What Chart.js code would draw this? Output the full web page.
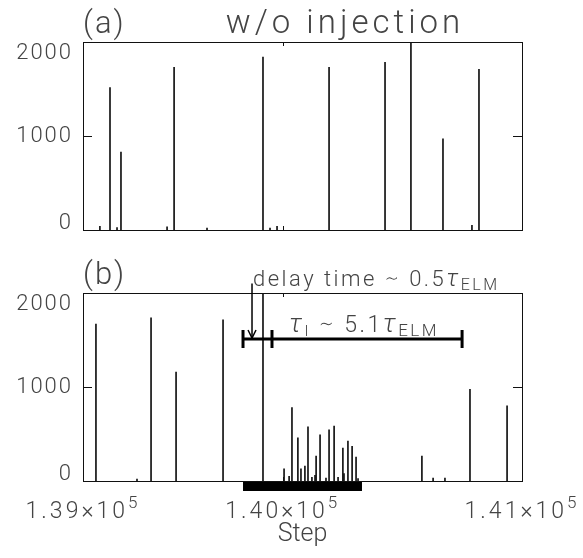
<!DOCTYPE html>
<html>
<head>
<meta charset="UTF-8">
<title>ELM spikes</title>
<script src="https://cdn.jsdelivr.net/npm/chart.js@4.4.0/dist/chart.umd.min.js"></script>
<style>
  body { margin: 0; background: #fff; }
  #wrap { position: relative; width: 583px; height: 558px; }
  canvas { position: absolute; left: 0; }
</style>
</head>
<body>
<div id="wrap">
  <canvas id="ca" width="583" height="250" style="top:0"></canvas>
  <canvas id="cb" width="583" height="308" style="top:250px"></canvas>
</div>
<script>
// (a) without injection: step and spike height
var stepsA = [139077, 139123, 139155, 139173, 139383, 139415, 139565, 139820, 139852, 139884,
              140121, 140376, 140494, 140640, 140772, 140804];
var peaksA = [40, 1516, 25, 830, 35, 1730, 20, 1840, 20, 40,
              1730, 1785, 2100, 970, 50, 1710];

// (b) with injection
var stepsB = [139059, 139246, 139310, 139424, 139638, 139820, 139916, 139939, 139952, 139979,
              139993, 140011, 140025, 140043, 140057, 140062, 140080, 140107, 140121, 140144,
              140162, 140184, 140189, 140207, 140226, 140244, 140253, 140544, 140595, 140649,
              140763, 140932];
var peaksB = [1670, 20, 1735, 1160, 1715, 2100, 130, 50, 780, 460,
              130, 160, 575, 40, 60, 265, 490, 30, 545, 585,
              40, 350, 80, 425, 370, 255, 25, 265, 30, 30,
              975, 800];

var xTicks = [139000, 139910, 141000];
var xTickMantissa = ['1.39', '1.40', '1.41'];   // shown as m×10^5
var yTicks = [0, 1000, 2000];
var yTickLabels = ['0', '1000', '2000'];

var injection = [139729, 140271];        // black bar under panel (b)
var delayEnds = [139729, 139861];
var tauEnds = [139861, 140727];
var bracketLevel = 1510;
var arrowTop = 2100;

var FAM = "Roboto, 'DejaVu Sans', sans-serif";
var INK = '#111';
var TXT = '#444';

function font(size, style) { return (style || '') + ' 300 ' + size + 'px ' + FAM; }

function drawRich(ctx, x, y, parts) {
    parts.forEach(function (p) {
        ctx.font = p[1];
        ctx.fillText(p[0], x, y + (p[2] || 0));
        x += ctx.measureText(p[0]).width;
    });
    return x;
}

function richWidth(ctx, parts) {
    var w = 0;
    parts.forEach(function (p) { ctx.font = p[1]; w += ctx.measureText(p[0]).width; });
    return w;
}

function vline(ctx, x, y0, y1) {
    ctx.beginPath(); ctx.moveTo(x, y0); ctx.lineTo(x, y1); ctx.stroke();
}

function framePlugin(panel) {
    return {
        id: 'frame' + panel,
        afterDraw: function (chart) {
            var ctx = chart.ctx, a = chart.chartArea;
            var xs = chart.scales.x, ys = chart.scales.y;
            ctx.save();
            ctx.strokeStyle = INK;
            ctx.lineWidth = 1;
            ctx.strokeRect(a.left + 0.5, a.top + 0.5, a.right - a.left, a.bottom - a.top);
            // inward ticks
            yTicks.forEach(function (v) {
                var py = Math.round(ys.getPixelForValue(v)) + 0.5;
                ctx.beginPath();
                ctx.moveTo(a.left, py); ctx.lineTo(a.left + 9, py);
                ctx.moveTo(a.right, py); ctx.lineTo(a.right - 9, py);
                ctx.stroke();
            });
            xTicks.forEach(function (v) {
                var px = Math.round(xs.getPixelForValue(v)) + 0.5;
                vline(ctx, px, a.top, a.top + 4);
                vline(ctx, px, a.bottom, a.bottom - 4);
            });
            // y tick labels, kept inside the frame height like the original
            ctx.fillStyle = TXT;
            ctx.font = font(22);
            ctx.letterSpacing = '2px';
            ctx.textAlign = 'right';
            ctx.textBaseline = 'middle';
            yTicks.forEach(function (v, i) {
                var py = ys.getPixelForValue(v);
                py = Math.min(Math.max(py, a.top + 11), a.bottom - 7);
                ctx.fillText(yTickLabels[i], a.left - 10, py);
            });
            // panel labels
            ctx.textAlign = 'left';
            ctx.font = font(31);
            ctx.fillText('(' + panel + ')', a.left, a.top - 17);
            if (panel === 'a') {
                ctx.textAlign = 'center';
                ctx.font = font(33);
                ctx.letterSpacing = '4px';
                ctx.fillText('w/o injection', 345, a.top - 17);
            }

            if (panel === 'b') {
                // x tick labels m×10^5
                ctx.textAlign = 'left';
                ctx.textBaseline = 'alphabetic';
                ctx.letterSpacing = '3px';
                xTicks.forEach(function (v, i) {
                    var parts = [[xTickMantissa[i] + '×10', font(23)], ['5', font(17), -10]];
                    var w = richWidth(ctx, parts);
                    drawRich(ctx, xs.getPixelForValue(v) - w / 2, a.bottom + 37, parts);
                });

                // injection period
                ctx.fillStyle = '#000';
                var i0 = xs.getPixelForValue(injection[0]), i1 = xs.getPixelForValue(injection[1]);
                ctx.fillRect(i0, a.bottom + 1, i1 - i0, 9);

                // brackets
                var by = Math.round(ys.getPixelForValue(bracketLevel));
                var d0 = xs.getPixelForValue(delayEnds[0]);
                var t0 = xs.getPixelForValue(tauEnds[0]);
                var t1 = xs.getPixelForValue(tauEnds[1]);
                ctx.strokeStyle = '#000';
                ctx.lineWidth = 3;
                ctx.beginPath(); ctx.moveTo(d0, by); ctx.lineTo(t1, by); ctx.stroke();
                [d0, t0, t1].forEach(function (px) { vline(ctx, px, by - 9, by + 9); });

                // arrow for the delay
                var ax = d0 + 9, ay = ys.getPixelForValue(arrowTop);
                ctx.lineWidth = 1.5;
                vline(ctx, ax, ay, by - 1);
                ctx.beginPath();
                ctx.moveTo(ax - 4, by - 9); ctx.lineTo(ax, by - 1); ctx.lineTo(ax + 4, by - 9);
                ctx.stroke();

                ctx.fillStyle = TXT;
                ctx.letterSpacing = '2.5px';
                drawRich(ctx, ax + 1, ay + 2, [
                    ['delay time ∼ 0.5', font(22)],
                    ['τ', font(24, 'italic')],
                    ['ELM', font(16), 4]
                ]);
                drawRich(ctx, t0 + 17, by - 7, [
                    ['τ', font(26, 'italic')],
                    ['I', font(15), 4],
                    [' ∼ 5.1', font(23)],
                    ['τ', font(26, 'italic')],
                    ['ELM', font(17), 4]
                ]);
            }
            ctx.letterSpacing = '0px';
            ctx.restore();
        }
    };
}

function makeChart(id, panel, steps, peaks, bottom) {
    var showX = panel === 'b';
    return new Chart(document.getElementById(id), {
        type: 'bar',
        data: {
            datasets: [{
                data: steps.map(function (s, i) { return { x: s, y: peaks[i] }; }),
                backgroundColor: INK,
                barThickness: 1
            }]
        },
        options: {
            responsive: false,
            animation: false,
            devicePixelRatio: 1,
            layout: { padding: { left: 0, right: 61, top: showX ? 43 : 42, bottom: 0 } },
            plugins: { legend: { display: false }, tooltip: { enabled: false } },
            scales: {
                x: {
                    type: 'linear',
                    min: 139000,
                    max: 141000,
                    offset: false,
                    afterBuildTicks: function (s) { s.ticks = xTicks.map(function (v) { return { value: v }; }); },
                    afterFit: function (s) { s.height = bottom; },
                    grid: { display: false },
                    border: { display: false },
                    ticks: { display: false },
                    title: {
                        display: showX,
                        text: 'Step',
                        color: TXT,
                        font: { family: FAM, size: 25, weight: 300 },
                        padding: { top: 0, bottom: 8 }
                    }
                },
                y: {
                    min: 0,
                    max: 2000,
                    afterBuildTicks: function (s) { s.ticks = yTicks.map(function (v) { return { value: v }; }); },
                    afterFit: function (s) { s.width = 83; },
                    grid: { display: false },
                    border: { display: false },
                    ticks: { display: false }
                }
            }
        },
        plugins: [framePlugin(panel)]
    });
}

makeChart('ca', 'a', stepsA, peaksA, 20);
makeChart('cb', 'b', stepsB, peaksB, 77);
</script>
</body>
</html>
